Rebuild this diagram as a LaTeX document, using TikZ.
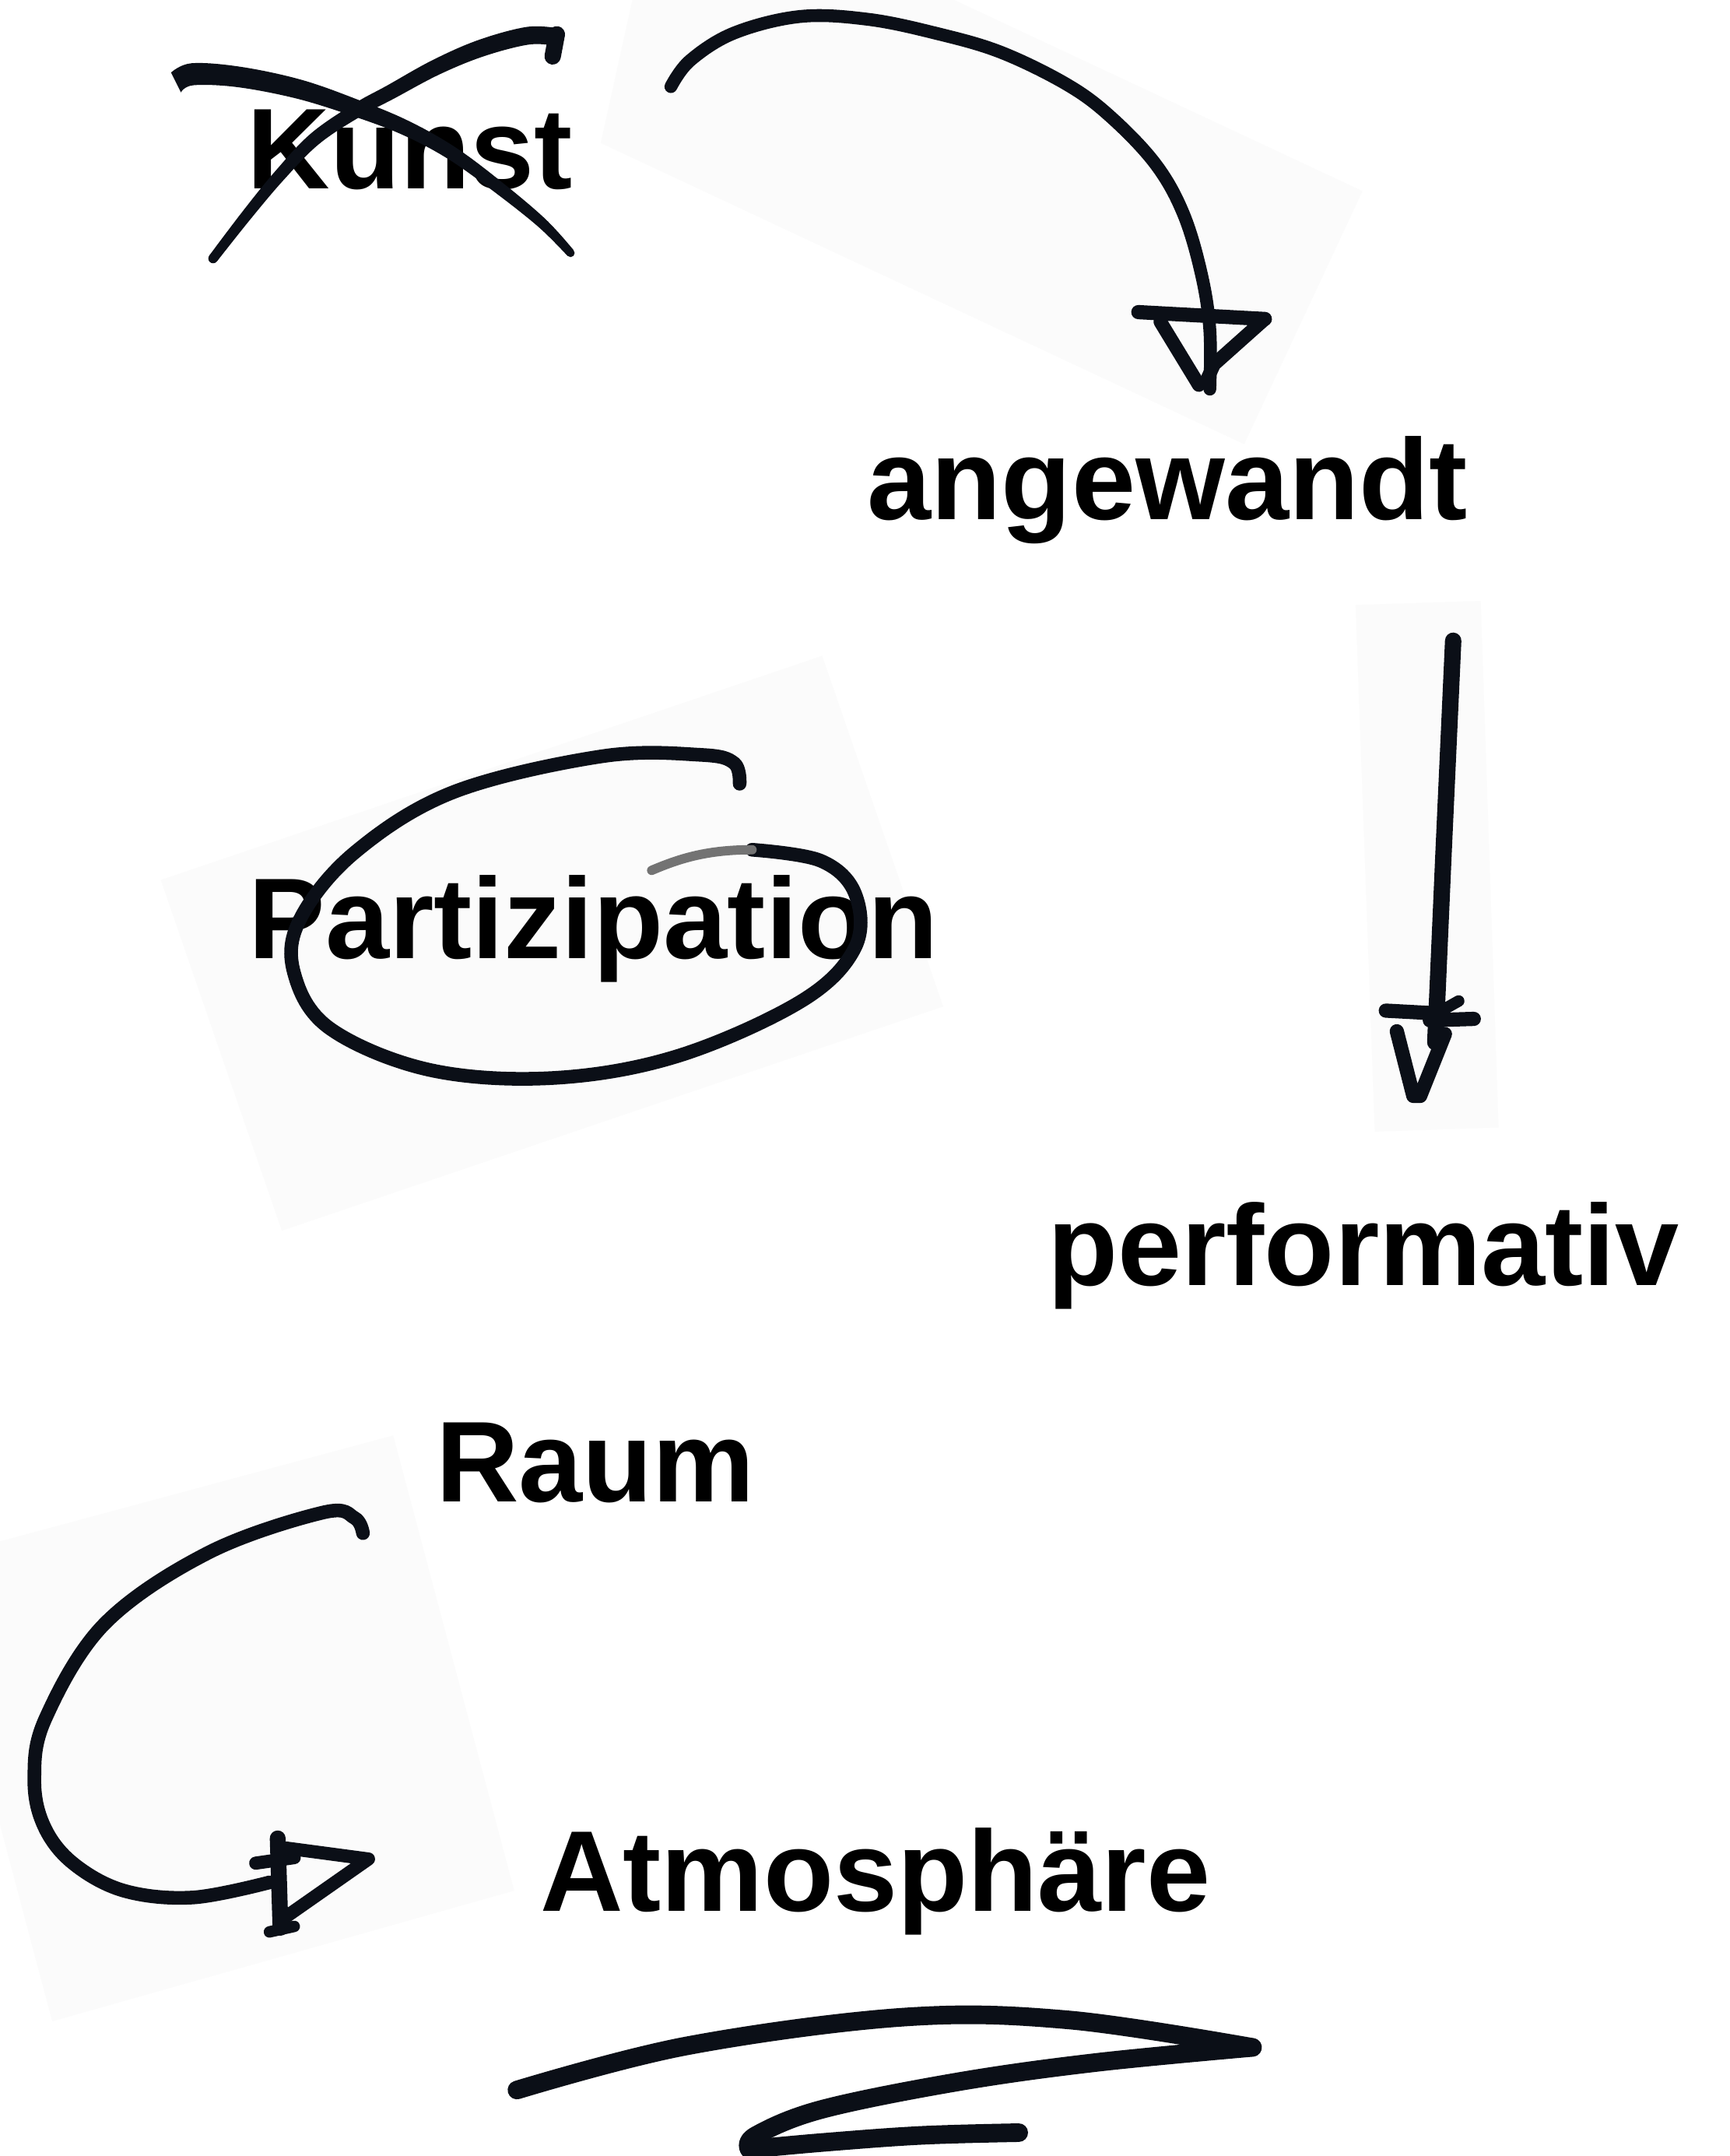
\documentclass[tikz,border=0pt]{standalone}
\usepackage{fontspec}
\newfontfamily\hv{Liberation Sans}
\definecolor{inkc}{HTML}{0B0F17}
\begin{document}
\begin{tikzpicture}[x=0.017663cm,y=-0.017663cm,
  word/.style={font=\hv\bfseries\fontsize{42}{48}\selectfont, anchor=base west, inner sep=0pt, outer sep=0pt, text=black},
  ink/.style={draw=inkc, line cap=round, line join=round, line width=4.8pt},
  inkfill/.style={fill=inkc, draw=none},
  paper/.style={fill=black!1.5, draw=none}]
\useasboundingbox[fill=white] (0,0) rectangle (1258,1568);

% faint pasted paper pieces
\fill[paper] (437,104) -- (905,323) -- (991,139) -- (694,0) -- (460,0) -- cycle;
\fill[paper] (117,640) -- (598,477) -- (686,732) -- (205,895) -- cycle;
\fill[paper] (986,440) -- (1077,437) -- (1090,820) -- (1000,823) -- cycle;
\fill[paper] (0,1121) -- (286,1044) -- (374,1375) -- (38,1470) -- (0,1327) -- cycle;

% words
\node[word] (kunst) at (180,137) {Kunst};
\node[word] (angewandt) at (631,378) {angewandt};
\node[word] (partizipation) at (181,697) {Partizipation};
\node[word] (performativ) at (762,935) {performativ};
\node[word] (raum) at (317,1092) {Raum};
\node[word] (atmo) at (393,1390) {Atmosphäre};

% X over Kunst (tapered brush strokes)
\fill[inkfill] plot[smooth, tension=0.6] coordinates {(124.4,52.8) (139.3,46) (175.1,48.6) (219.8,58.2) (262.1,73.2) (297.3,88) (330.7,106.8) (363.7,131.4) (396.6,159.2) (417.2,181.9)}
  -- plot[smooth, tension=0.6] coordinates {(412.8,186.1) (391.4,164.8) (358.3,138.6) (325.3,115.2) (292.7,98) (257.9,84.8) (216.2,71.8) (172.9,63.4) (140.7,62) (131.6,67.2)} -- cycle;
\fill[inkfill] (415,184) circle (1.5pt);
\fill[inkfill] plot[smooth, tension=0.6] coordinates {(405.3,20.5) (383.1,19.6) (348,29.1) (314.5,43.8) (281.4,62.3) (257.3,75.6) (225.9,97.3) (199.7,125.1) (175.9,154.5) (152.2,185.9)}
  -- plot[smooth, tension=0.6] coordinates {(157.8,190.1) (182.1,159.5) (206.3,130.9) (232.1,104.7) (262.7,84.4) (286.6,71.7) (319.5,54.2) (352,40.9) (384.9,32.4) (404.7,33.5)} -- cycle;
\fill[inkfill] (155,188) circle (1.75pt);
\draw[ink, line width=6pt] (405,25) -- (402,41);

% top arrow Kunst -> angewandt
\coordinate (a1s) at (488,63);
\coordinate (a1e) at (880,283);
\draw[ink, line width=4.7pt] plot[smooth, tension=0.6] coordinates {(a1s) (502,44) (534,24) (582,12) (631,14) (680,24) (728,38) (777,62) (809,86) (841,120) (861,156) (874,200) (880,240) (a1e)};
\draw[ink, line width=5.2pt] (828,227) -- (920,232);
\draw[ink, line width=5pt] (920,232) -- (883,265) -- (878,276);
\draw[ink, line width=5pt] (844,234) -- (872,280);

% down arrow angewandt -> performativ
\coordinate (a2s) at (1057,466);
\coordinate (a2e) at (1044,758);
\draw[ink, line width=6pt] (a2s) -- (1050,620) -- (a2e);
\draw[ink, line width=5.2pt] (1008,735) -- (1045,737);
\draw[ink, line width=5.2pt] (1040,742) -- (1072,741);
\draw[ink, line width=4.2pt] (1045,737) -- (1061,728);
\draw[ink, line width=5.2pt] (1016,750) -- (1028,797) -- (1033,797) -- (1051,752);

% ellipse around Partizipation
\draw[ink, line width=5pt] plot[smooth, tension=0.6] coordinates {(538,570) (534,555) (510,549) (438,550) (330,576) (258,620) (218,669) (214,708) (240,748) (312,778) (402,784) (493,768) (583,728) (622,689) (622,650) (597,626) (547,618)};
\draw[draw=black!55, line width=3.4pt, line cap=round] (547,618) .. controls (515,618) and (495,624) .. (474,633);

% curved arrow Raum -> Atmosphaere
\coordinate (a3s) at (264,1115);
\coordinate (a3e) at (196,1369);
\draw[ink, line width=5pt] plot[smooth, tension=0.6] coordinates {(a3s) (258,1104) (235,1100) (152,1129) (76,1181) (33,1250) (25,1294) (32,1328) (53,1355) (90,1375) (140,1380) (a3e)};
\draw[ink, line width=5.8pt] (202,1337) -- (204,1402);
\draw[ink, line width=4.8pt] (208,1344) -- (268,1352) -- (208,1394);
\draw[ink, line width=4.8pt] (186,1355) -- (214,1351);
\draw[ink, line width=4.2pt] (196,1405) -- (214,1401);

% underline squiggle
\draw[ink, line width=6.8pt] plot[smooth, tension=0.6] coordinates {(376,1520) (499,1488) (657,1467) (777,1469) (911,1489)};
\draw[ink, line width=6.8pt] plot[smooth, tension=0.6] coordinates {(911,1489) (797,1500) (697,1514) (598,1534) (550,1553) (545,1563)};
\draw[ink, line width=6.8pt] plot[smooth, tension=0.6] coordinates {(545,1563) (600,1558) (670,1553) (741,1551)};
\end{tikzpicture}
\end{document}
